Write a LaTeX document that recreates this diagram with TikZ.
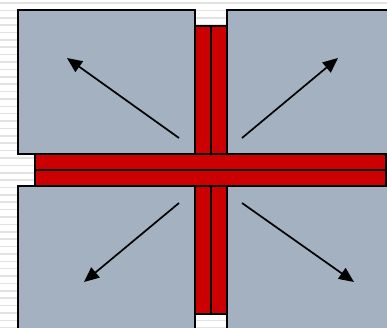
\documentclass[tikz,border=0pt]{standalone}
\usetikzlibrary{arrows.meta}
\definecolor{boxblue}{HTML}{A3B1C0}
\definecolor{barred}{HTML}{CC0000}
\definecolor{stripe}{HTML}{E2E2E2}
\tikzset{
  panel/.style={fill=boxblue, draw=black, line width=1.6pt},
  bar/.style={fill=barred, draw=black, line width=1.6pt},
  push/.style={draw=black, line width=1.7pt, -{Triangle[length=15pt,width=13pt]}},
  rule/.style={draw=stripe, line width=1.6pt}
}
\begin{document}
\begin{tikzpicture}[x=1pt,y=-1pt]
\useasboundingbox (0,0) rectangle (387,328);
\clip (0,0) rectangle (387,328);
\fill[white] (0,0) rectangle (387,328);
\foreach \k in {0,...,44} {
  \draw[rule] (0,{3+7.38*\k}) -- (387,{3+7.38*\k});
}
% panels
\draw[panel] (18,10) rectangle (195,154);
\draw[panel] (227,10) rectangle (400,154);
\draw[panel] (18,186) rectangle (195,340);
\draw[panel] (227,186) rectangle (400,340);
% vertical bars
\draw[bar] (195,26) rectangle (211,314);
\draw[bar] (211,26) rectangle (227,314);
% horizontal bars
\draw[bar] (35,154) rectangle (386,170);
\draw[bar] (35,170) rectangle (386,186);
% arrows
\coordinate (c1) at (179,138); \coordinate (t1) at (67,58);
\coordinate (c2) at (242,138); \coordinate (t2) at (338,58);
\coordinate (c3) at (179,203); \coordinate (t3) at (84,282);
\coordinate (c4) at (242,203); \coordinate (t4) at (354,282);
\draw[push] (c1) -- (t1);
\draw[push] (c2) -- (t2);
\draw[push] (c3) -- (t3);
\draw[push] (c4) -- (t4);
\end{tikzpicture}
\end{document}
